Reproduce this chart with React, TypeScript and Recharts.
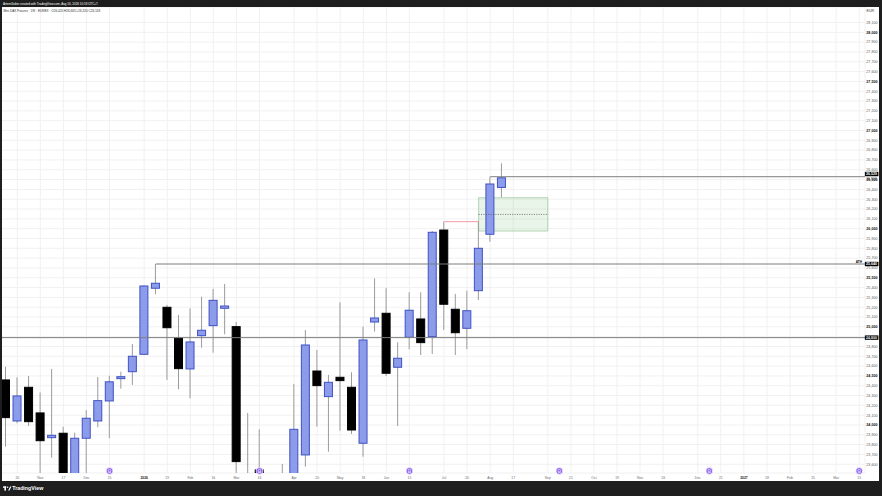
import React from "react";
import {
  ComposedChart,
  Bar,
  XAxis,
  YAxis,
  CartesianGrid,
  ReferenceLine,
  ReferenceArea,
  ReferenceDot,
} from "recharts";

// Weekly candles, Oct 13 2025 .. Aug 10 2026
const opens = [24459, 24041, 24384, 24123, 23871, 23916, 23440, 23865, 24041, 24245, 24472, 24543, 24720, 25393, 25199, 24886, 24571, 24910, 25012, 25189, 25002, 23480, 23542, 23350, 23200, 23400, 23695, 24550, 24289, 24486, 24384, 23814, 25049, 25138, 24588, 24894, 25080, 24900, 25986, 25179, 24985, 25368, 25943, 26420];
const highs = [24594, 24486, 24499, 24331, 24571, 23983, 23922, 24153, 24489, 24502, 24543, 24825, 25421, 25640, 25223, 25121, 25189, 25307, 25386, 25436, 25049, 24123, 23956, 23480, 23603, 24418, 24968, 24764, 24510, 25250, 24537, 25002, 25494, 25393, 24843, 25352, 25352, 25976, 26071, 25335, 25368, 26080, 26529, 26665];
const lows = [23779, 24018, 23990, 23480, 23667, 23350, 23380, 23490, 23977, 23865, 24370, 24408, 24713, 25332, 24459, 24364, 24272, 24788, 24737, 24924, 23500, 23100, 23200, 23050, 23000, 23300, 23576, 23983, 23728, 23942, 23909, 23677, 24951, 24499, 23990, 24771, 24713, 24723, 24968, 24713, 24771, 25273, 25867, 26320];
const closes = [24075, 24296, 24034, 23840, 23895, 23420, 23865, 24069, 24248, 24440, 24492, 24700, 25416, 25444, 24991, 24574, 24846, 24965, 25270, 25212, 23627, 23250, 23300, 23150, 23400, 23956, 24815, 24401, 24435, 24452, 23949, 24866, 25090, 24527, 24680, 25169, 24839, 25963, 25230, 24940, 25164, 25800, 26455, 26518];

const totalWeeks = 75;
const weekIndex = Array.from({ length: totalWeeks }, (_, i) => i);

const timeTickIdx = [1, 3, 5, 7, 9, 12, 14, 16, 18, 20, 22, 25, 27, 29, 31, 33, 35, 38, 40, 42, 44, 47, 49, 51, 53, 55, 57, 60, 62, 64, 66, 68, 70, 72, 74];
const timeTickLabels = ["20", "Nov", "17", "Dec", "15", "2026", "19", "Feb", "16", "Mar", "16", "Apr", "20", "May", "18", "Jun", "15", "Jul", "20", "Aug", "17", "Sep", "21", "Oct", "19", "Nov", "16", "Dec", "21", "2027", "18", "Feb", "15", "Mar", "15"];
const boldTimeLabels = ["2026", "2027"];

const priceTicks = [23600, 23700, 23800, 23900, 24000, 24100, 24200, 24300, 24400, 24500, 24600, 24700, 24800, 24900, 25000, 25100, 25200, 25300, 25400, 25500, 25600, 25700, 25800, 25900, 26000, 26100, 26200, 26300, 26400, 26500, 26600, 26700, 26800, 26900, 27000, 27100, 27200, 27300, 27400, 27500, 27600, 27700, 27800, 27900, 28000, 28100];

const expiryWeeks = [9, 22, 35, 48, 61, 74];
const expiryMarkerPrice = 23532;

// drawings
const rayLevels = [26529, 25640, 24890];
const rayStartWeeks = [42, 13, -0.5];
const sweptHigh = 26071;
const sweptFrom = 38;
const sweptTo = 41;
const zoneTop = 26315;
const zoneBottom = 25976;
const zoneMid = 26145;
const zoneFrom = 41;
const zoneTo = 47;

const FONT = "'Liberation Sans', Arial, Helvetica, sans-serif";
const FRAME = "#1e1e1e";

const rows = weekIndex.map((i) => ({
  i,
  open: i < opens.length ? opens[i] : null,
  high: i < highs.length ? highs[i] : null,
  low: i < lows.length ? lows[i] : null,
  close: i < closes.length ? closes[i] : null,
}));

const fmt = (v: number) => v.toLocaleString("en-US");

const CandleShape = (props: any) => {
  const { x, y, width, height, payload } = props;
  if (!payload || payload.high == null) return null;
  const { open, close, high, low } = payload;
  const yTop = height >= 0 ? y : y + height;
  const h = Math.abs(height);
  const ppu = h / (high - low);
  const cx = x + width / 2;
  const up = close >= open;
  const top = yTop + (high - Math.max(open, close)) * ppu;
  let bh = Math.abs(open - close) * ppu;
  let bt = top;
  if (bh < 1.6) {
    bt = top - (1.6 - bh) / 2;
    bh = 1.6;
  }
  return (
    <g>
      <line x1={cx} x2={cx} y1={yTop} y2={yTop + h} stroke="#9b9b9b" strokeWidth={1} />
      <rect
        x={x + 0.5}
        y={bt}
        width={width - 1}
        height={bh}
        fill={up ? "#8c9ceb" : "#000000"}
        stroke={up ? "#3f51c4" : "#000000"}
        strokeWidth={1}
      />
    </g>
  );
};

const TimeTick = (props: any) => {
  const { x, y, payload } = props;
  const k = timeTickIdx.indexOf(payload.value);
  const label = k >= 0 ? timeTickLabels[k] : "";
  const bold = boldTimeLabels.includes(label);
  return (
    <text x={x} y={y + 6} textAnchor="middle" fontSize={3.4} fontFamily={FONT} fill={bold ? "#222" : "#6a6a6a"} fontWeight={bold ? 700 : 400}>
      {label}
    </text>
  );
};

const PriceTick = (props: any) => {
  const { x, y, payload } = props;
  const v = payload.value as number;
  const bold = v % 500 === 0;
  return (
    <text x={x + 1.3} y={y + 1.35} textAnchor="start" fontSize={3.7} fontFamily={FONT} fill={bold ? "#111" : "#5a5a5a"} fontWeight={bold ? 700 : 400}>
      {fmt(v)}
    </text>
  );
};

const makeLevelLabel = (text: string, shift: number, note?: string, sub?: string) => (props: any) => {
  const { cx, cy } = props;
  const yc = cy + shift;
  return (
    <g>
      <rect x={cx} y={yc - 2.2} width={13.5} height={4.4} fill="#000" />
      <text x={cx + 1.2} y={yc + 1.3} fontSize={3.6} fontFamily={FONT} fill="#fff" fontWeight={700}>
        {text}
      </text>
      {note ? (
        <text x={cx - 3} y={yc - 0.6} textAnchor="end" fontSize={3.1} fontFamily={FONT} fill="#000" fontWeight={700}>
          {note}
        </text>
      ) : null}
      {sub ? (
        <text x={cx + 1.3} y={yc + 5.6} fontSize={3.4} fontFamily={FONT} fill="#333">
          {sub}
        </text>
      ) : null}
    </g>
  );
};

const ExpiryMarker = (props: any) => {
  const { cx, cy } = props;
  return (
    <g>
      <circle cx={cx} cy={cy} r={3.4} fill="#8d63f0" stroke="#ffffff" strokeWidth={0.7} />
      <circle cx={cx} cy={cy - 0.3} r={1.3} fill="none" stroke="#ffffff" strokeWidth={0.6} />
      <line x1={cx - 1.5} x2={cx + 1.5} y1={cy + 1.4} y2={cy + 1.4} stroke="#ffffff" strokeWidth={0.6} />
    </g>
  );
};

const last = opens.length - 1;
const titleText = `Mini DAX Futures · 1W · EUREX · O${fmt(opens[last])} H${fmt(highs[last])} L${fmt(lows[last])} C${fmt(closes[last])}`;

export default function App() {
  return (
    <div style={{ position: "absolute", left: 0, top: 0, width: 882, height: 496, background: "#ffffff", overflow: "hidden" }}>
      <div style={{ position: "absolute", left: 0, top: 0 }}>
        <ComposedChart width={882} height={496} data={rows} margin={{ top: 7, right: 0, bottom: 15, left: 0 }}>
          <CartesianGrid stroke="#f1f1f1" strokeWidth={1} />
          <XAxis
            xAxisId={0}
            dataKey="i"
            type="number"
            domain={[-0.5, totalWeeks - 0.5]}
            ticks={timeTickIdx}
            interval={0}
            height={8}
            tickLine={false}
            axisLine={false}
            tickSize={0}
            tickMargin={0}
            tick={<TimeTick />}
          />
          <XAxis xAxisId="cat" dataKey="i" type="category" hide />
          <YAxis
            yAxisId={0}
            orientation="right"
            width={17}
            domain={[23511, 28258]}
            allowDataOverflow
            ticks={priceTicks}
            interval={0}
            tickLine={false}
            axisLine={false}
            tickSize={0}
            tickMargin={0}
            tick={<PriceTick />}
          />
          <Bar
            xAxisId="cat"
            yAxisId={0}
            dataKey={(d: any) => (d.high == null ? null : [d.low, d.high])}
            barSize={9}
            shape={CandleShape}
            isAnimationActive={false}
          />
          <ReferenceLine
            segment={[{ x: rayStartWeeks[0], y: rayLevels[0] }, { x: totalWeeks - 0.5, y: rayLevels[0] }]}
            stroke="#7d7d7d"
            strokeWidth={1}
          />
          <ReferenceLine
            segment={[{ x: rayStartWeeks[1], y: rayLevels[1] }, { x: totalWeeks - 0.5, y: rayLevels[1] }]}
            stroke="#7d7d7d"
            strokeWidth={1}
          />
          <ReferenceLine
            segment={[{ x: rayStartWeeks[2], y: rayLevels[2] }, { x: totalWeeks - 0.5, y: rayLevels[2] }]}
            stroke="#7d7d7d"
            strokeWidth={1}
          />
          <ReferenceLine
            segment={[{ x: sweptFrom, y: sweptHigh }, { x: sweptTo, y: sweptHigh }]}
            stroke="#f29aa3"
            strokeWidth={1}
          />
          <ReferenceArea
            x1={zoneFrom}
            x2={zoneTo}
            y1={zoneBottom}
            y2={zoneTop}
            fill="#4caf50"
            fillOpacity={0.13}
            stroke="#8fbf8f"
            strokeOpacity={0.8}
            strokeWidth={0.8}
          />
          <ReferenceLine
            segment={[{ x: zoneFrom, y: zoneMid }, { x: zoneTo, y: zoneMid }]}
            stroke="#555"
            strokeWidth={0.8}
            strokeDasharray="1 1.4"
          />
          {expiryWeeks.map((w) => (
            <ReferenceDot key={"e" + w} x={w} y={expiryMarkerPrice} r={3} shape={ExpiryMarker} />
          ))}
          <ReferenceDot x={totalWeeks - 0.51} y={rayLevels[0]} r={1} shape={makeLevelLabel(fmt(rayLevels[0]), -2.7, undefined, fmt(closes[last]))} />
          <ReferenceDot x={totalWeeks - 0.51} y={rayLevels[1]} r={1} shape={makeLevelLabel(fmt(rayLevels[1]), 0, "ATH")} />
          <ReferenceDot x={totalWeeks - 0.51} y={rayLevels[2]} r={1} shape={makeLevelLabel(fmt(rayLevels[2]), 0)} />
        </ComposedChart>
      </div>
      <svg width={882} height={496} style={{ position: "absolute", left: 0, top: 0, pointerEvents: "none" }}>
        <rect x={0} y={0} width={882} height={7} fill={FRAME} />
        <rect x={0} y={0} width={2} height={496} fill={FRAME} />
        <rect x={879} y={0} width={3} height={496} fill={FRAME} />
        <rect x={0} y={481} width={882} height={15} fill={FRAME} />
        <text x={3} y={4.6} fontSize={3} fontFamily={FONT} fill="#ffffff">
          ArtemGubin created with TradingView.com, Aug 16, 2026 10:18 UTC+7
        </text>
        <text x={3.5} y={11.8} fontSize={3.1} fontFamily={FONT} fill="#333">
          {titleText}
        </text>
        <text x={866.5} y={12.4} fontSize={3.6} fontFamily={FONT} fill="#333">
          EUR
        </text>
        <g fill="#ffffff">
          <rect x={3} y={486.4} width={3.2} height={1.4} />
          <rect x={4.4} y={486.4} width={1.6} height={4.2} />
          <circle cx={7.6} cy={487.2} r={0.8} />
          <polygon points="8.2,490.6 10.1,486.4 11.4,486.4 9.5,490.6" />
        </g>
        <text x={12.2} y={490.4} fontSize={5.3} fontFamily={FONT} fontWeight={700} fill="#ffffff">
          TradingView
        </text>
      </svg>
    </div>
  );
}
